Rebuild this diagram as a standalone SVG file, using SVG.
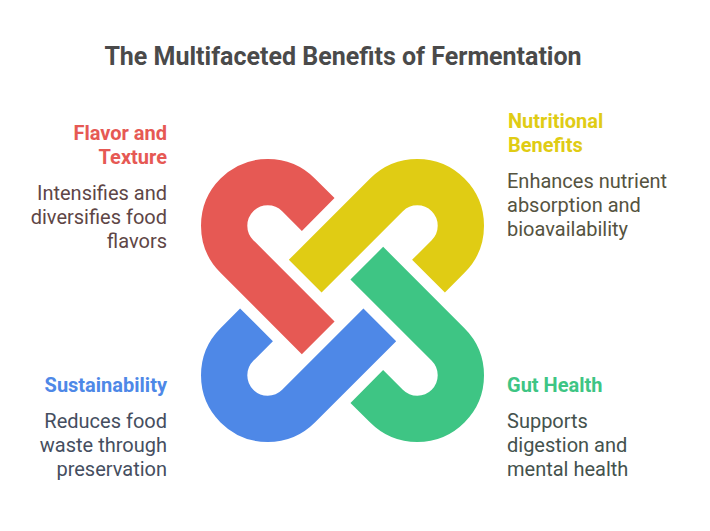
<svg xmlns="http://www.w3.org/2000/svg" width="710" height="531" viewBox="0 0 710 531">
<style>
text{font-family:Roboto,"Liberation Sans",sans-serif;font-size:20px}
.t{font-size:25px;font-weight:700;fill:#4A4A4A;text-anchor:middle}
.h{font-weight:700}
.l{text-anchor:end}
.band{fill:none;stroke-width:46.3;stroke-linecap:butt}
</style>
<rect width="710" height="531" fill="#ffffff"/>
<text class="t" x="343" y="65">The Multifaceted Benefits of Fermentation</text>
<g id="connectors">
<path class="band" stroke="#E65954" d="M318.2 214.5L298.5 194.9A43.5 43.5 0 0 0 236.9 256.5L318.2 337.8"/>
<path class="band" stroke="#E0CC14" d="M428.5 276.2L448.1 256.5A43.5 43.5 0 0 0 386.5 194.9L305.2 276.2"/>
<path class="band" stroke="#3EC584" d="M366.8 386.5L386.5 406.1A43.5 43.5 0 0 0 448.1 344.5L366.8 263.2"/>
<path class="band" stroke="#4E88E7" d="M256.5 324.8L236.9 344.5A43.5 43.5 0 0 0 298.5 406.1L379.8 324.8"/>
</g>
<g id="flavor">
<text class="h l" x="167" y="140" fill="#E65954">Flavor and</text>
<text class="h l" x="167" y="164" fill="#E65954">Texture</text>
<text class="l" x="167" y="200" fill="#5E4646">Intensifies and</text>
<text class="l" x="167" y="224" fill="#5E4646">diversifies food</text>
<text class="l" x="167" y="248" fill="#5E4646">flavors</text>
</g>
<g id="nutrition">
<text class="h" x="508" y="128" fill="#E0CC14">Nutritional</text>
<text class="h" x="508" y="152" fill="#E0CC14">Benefits</text>
<text x="507" y="188" fill="#55533F">Enhances nutrient</text>
<text x="507" y="212" fill="#55533F">absorption and</text>
<text x="507" y="236" fill="#55533F">bioavailability</text>
</g>
<g id="sustainability">
<text class="h l" x="167" y="392" fill="#4E88E7">Sustainability</text>
<text class="l" x="167" y="428" fill="#454E60">Reduces food</text>
<text class="l" x="167" y="452" fill="#454E60">waste through</text>
<text class="l" x="167" y="476" fill="#454E60">preservation</text>
</g>
<g id="gut">
<text class="h" x="507" y="392" fill="#3EC584">Gut Health</text>
<text x="507" y="428" fill="#44524D">Supports</text>
<text x="507" y="452" fill="#44524D">digestion and</text>
<text x="507" y="476" fill="#44524D">mental health</text>
</g>
</svg>
